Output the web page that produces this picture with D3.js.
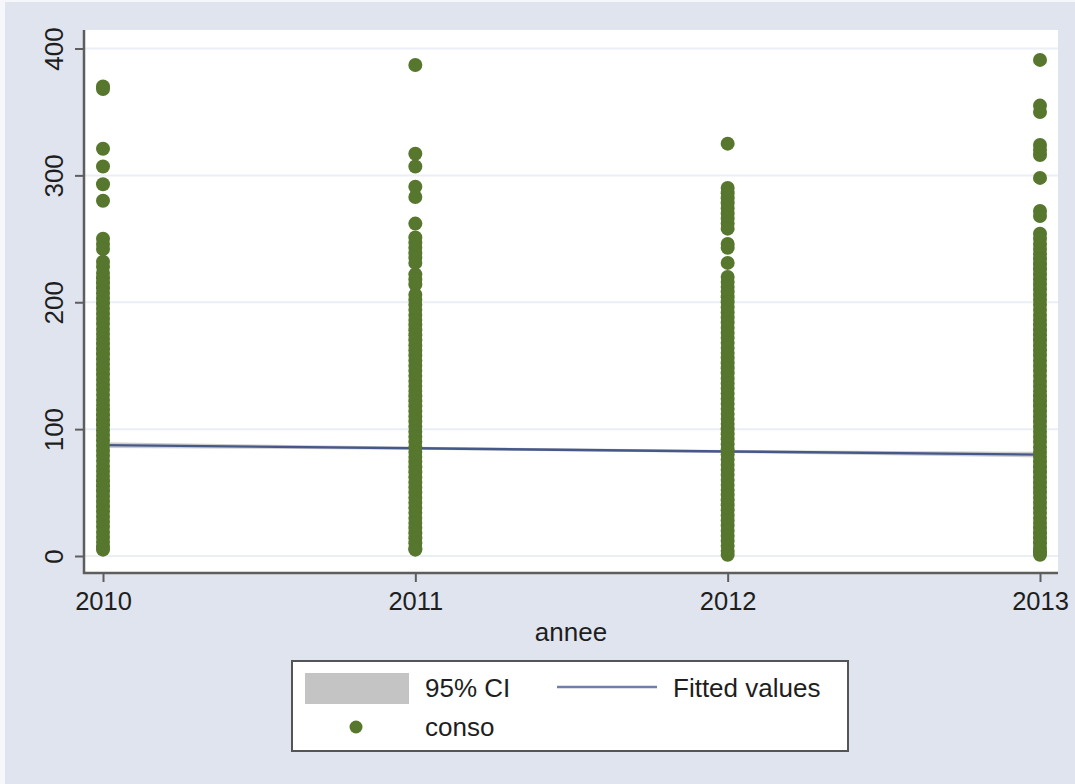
<!DOCTYPE html>
<html>
<head>
<meta charset="utf-8">
<script src="https://cdn.jsdelivr.net/npm/d3@7"></script>
<style>
  html, body { margin: 0; padding: 0; background: #ffffff; }
  svg { display: block; font-family: "Liberation Sans", Arial, Helvetica, sans-serif; }
</style>
</head>
<body>
<svg id="chart" width="1075" height="784"></svg>
<script>
// ---------- data ----------
const years = [2010, 2011, 2012, 2013];
const yTicks = [0, 100, 200, 300, 400];
const xTicks = [2010, 2011, 2012, 2013];

const conso2010 = [370, 368, 321, 307, 293, 280, 250, 246, 242, 232, 228, 223, 219, 215, 211, 207, 203, 199, 195, 191, 187, 183, 179, 175, 171, 167, 163, 159, 155, 151, 147, 143, 139, 135, 131, 127, 123, 119, 115, 111, 107, 103, 99, 95, 91, 87, 83, 79, 75, 71, 67, 63, 59, 55, 51, 47, 43, 39, 35, 31, 27, 23, 19, 15, 11, 7, 5];
const conso2011 = [387, 317, 307, 291, 283, 262, 251, 247, 243, 239, 235, 231, 222, 218, 214, 206, 202, 198, 194, 190, 186, 182, 178, 174, 170, 166, 162, 158, 154, 150, 146, 142, 138, 134, 130, 126, 122, 118, 114, 110, 106, 102, 98, 94, 90, 86, 82, 78, 74, 70, 66, 62, 58, 54, 50, 46, 42, 38, 34, 30, 26, 22, 18, 14, 10, 6, 5];
const conso2012 = [325, 290, 286, 282, 278, 274, 270, 266, 262, 258, 246, 243, 231, 220, 216, 212, 208, 204, 200, 196, 192, 188, 184, 180, 176, 172, 168, 164, 160, 156, 152, 148, 144, 140, 136, 132, 128, 124, 120, 116, 112, 108, 104, 100, 96, 92, 88, 84, 80, 76, 72, 68, 64, 60, 56, 52, 48, 44, 40, 36, 32, 28, 24, 20, 16, 12, 8, 4, 1];
const conso2013 = [391, 355, 350, 324, 320, 316, 298, 272, 268, 254, 250, 246, 242, 238, 234, 230, 226, 222, 218, 214, 210, 206, 202, 198, 194, 190, 186, 182, 178, 174, 170, 166, 162, 158, 154, 150, 146, 142, 138, 134, 130, 126, 122, 118, 114, 110, 106, 102, 98, 94, 90, 86, 82, 78, 74, 70, 66, 62, 58, 54, 50, 46, 42, 38, 34, 30, 26, 22, 18, 14, 10, 6, 3, 1];

const fitted = [87.4, 84.9, 82.4, 79.9];
const ciLow  = [85.2, 83.7, 81.2, 77.7];
const ciHigh = [89.6, 86.1, 83.6, 82.1];

const legendLabels = ["95% CI", "Fitted values", "conso"];
const xTitle = "annee";

// ---------- setup ----------
const svg = d3.select("#chart");
const W = 1075, H = 784;
const plot = { left: 84, right: 1058, top: 30, bottom: 573 };

const colBg = "#e0e4ee";
const colDot = "#56772d";
const colLine = "#46588a";
const colCI = "#c4c4c4";
const colGrid = "#eaeef5";
const colAxis = "#5e5e5e";
const colText = "#1e1e1e";
const fontFam = "'Liberation Sans', Arial, sans-serif";

svg.append("rect").attr("x", 0).attr("y", 0).attr("width", W).attr("height", H).attr("fill", "#f6f7fa");
svg.append("rect").attr("x", 5).attr("y", 2).attr("width", W - 5).attr("height", H - 2).attr("fill", colBg);
svg.append("rect")
  .attr("x", plot.left).attr("y", plot.top)
  .attr("width", plot.right - plot.left).attr("height", plot.bottom - plot.top)
  .attr("fill", "#ffffff");

const x = d3.scaleLinear().domain([2010, 2013]).range([103, 1040]);
const y = d3.scaleLinear().domain([0, 400]).range([556, 48.5]);

// grid
svg.append("g").selectAll("line").data(yTicks).join("line")
  .attr("x1", plot.left).attr("x2", plot.right)
  .attr("y1", d => y(d)).attr("y2", d => y(d))
  .attr("stroke", colGrid).attr("stroke-width", 2);

// CI band
const ciData = years.map((yr, i) => ({ yr, lo: ciLow[i], hi: ciHigh[i], fit: fitted[i] }));
svg.append("path").datum(ciData)
  .attr("d", d3.area().x(d => x(d.yr)).y0(d => y(d.lo)).y1(d => y(d.hi)))
  .attr("fill", colCI).attr("opacity", 0.85);

// fitted line
svg.append("path").datum(ciData)
  .attr("d", d3.line().x(d => x(d.yr)).y(d => y(d.fit)))
  .attr("fill", "none").attr("stroke", colLine).attr("stroke-width", 2.4);

// scatter points
const series = [conso2010, conso2011, conso2012, conso2013];
const pts = [];
series.forEach((arr, i) => arr.forEach(v => pts.push({ yr: years[i], v })));
svg.append("g").selectAll("circle").data(pts).join("circle")
  .attr("cx", d => x(d.yr)).attr("cy", d => y(d.v)).attr("r", 7)
  .attr("fill", colDot);

// y axis
const yAxis = svg.append("g").attr("transform", `translate(${plot.left},0)`)
  .call(d3.axisLeft(y).tickValues(yTicks).tickSize(9).tickFormat(d3.format("d")));
yAxis.select(".domain").remove();
yAxis.selectAll(".tick line").attr("stroke", colAxis).attr("stroke-width", 2);
yAxis.selectAll(".tick text")
  .attr("x", 0).attr("y", 0).attr("dy", 0)
  .attr("transform", "translate(-21,0) rotate(-90)")
  .attr("text-anchor", "middle")
  .attr("font-size", 26).attr("fill", colText)
  .attr("font-family", fontFam);
svg.append("line")
  .attr("x1", plot.left).attr("x2", plot.left)
  .attr("y1", plot.top).attr("y2", plot.bottom + 1)
  .attr("stroke", colAxis).attr("stroke-width", 2.5);

// x axis
const xAxis = svg.append("g").attr("transform", `translate(0,${plot.bottom})`)
  .call(d3.axisBottom(x).tickValues(xTicks).tickSize(9).tickFormat(d3.format("d")));
xAxis.select(".domain").remove();
xAxis.selectAll(".tick line").attr("stroke", colAxis).attr("stroke-width", 2);
xAxis.selectAll(".tick text")
  .attr("y", 37).attr("dy", 0)
  .attr("font-size", 25.5).attr("fill", colText)
  .attr("font-family", fontFam);
svg.append("line")
  .attr("x1", plot.left - 1).attr("x2", plot.right)
  .attr("y1", plot.bottom).attr("y2", plot.bottom)
  .attr("stroke", colAxis).attr("stroke-width", 2.5);

// x title
svg.append("text")
  .attr("x", (plot.left + plot.right) / 2).attr("y", 641)
  .attr("text-anchor", "middle").attr("font-size", 26).attr("fill", colText)
  .text(xTitle);

// legend
const lg = svg.append("g");
lg.append("rect").attr("x", 292).attr("y", 661).attr("width", 556).attr("height", 90)
  .attr("fill", "#ffffff").attr("stroke", "#555555").attr("stroke-width", 2);
lg.append("rect").attr("x", 305).attr("y", 673).attr("width", 104).attr("height", 31).attr("fill", colCI);
lg.append("text").attr("x", 425).attr("y", 697).attr("font-size", 26).attr("fill", colText).text(legendLabels[0]);
lg.append("line").attr("x1", 557).attr("x2", 657).attr("y1", 687).attr("y2", 687)
  .attr("stroke", "#6d80a8").attr("stroke-width", 2.5);
lg.append("text").attr("x", 673).attr("y", 697).attr("font-size", 26).attr("fill", colText).text(legendLabels[1]);
lg.append("circle").attr("cx", 356).attr("cy", 727).attr("r", 6.5).attr("fill", colDot);
lg.append("text").attr("x", 425).attr("y", 736).attr("font-size", 26).attr("fill", colText).text(legendLabels[2]);
</script>
</body>
</html>
